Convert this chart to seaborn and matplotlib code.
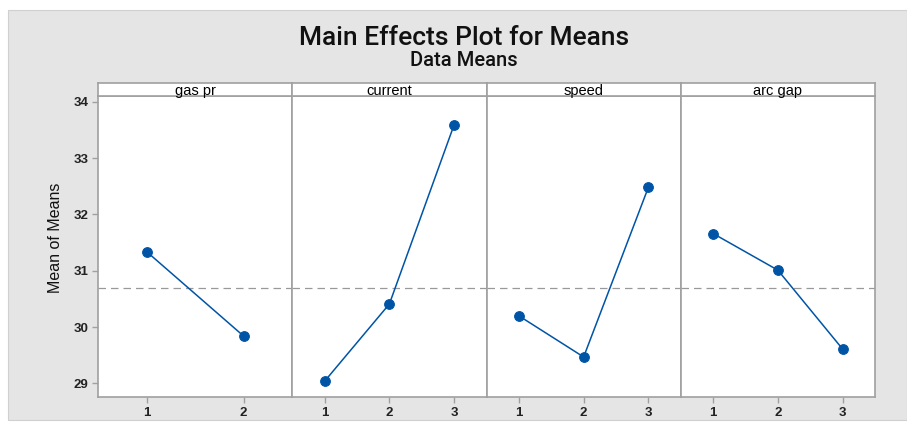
import numpy as np
import pandas as pd
import matplotlib
matplotlib.use('Agg')
import matplotlib.pyplot as plt
import seaborn as sns
from matplotlib.patches import Rectangle

# %%
# Data
factors = ['gas pr', 'current', 'speed', 'arc gap']
gas_pr_levels = [1, 2]
gas_pr_means = [31.34, 29.84]
current_levels = [1, 2, 3]
current_means = [29.04, 30.41, 33.59]
speed_levels = [1, 2, 3]
speed_means = [30.20, 29.47, 32.48]
arc_gap_levels = [1, 2, 3]
arc_gap_means = [31.66, 31.01, 29.61]
grand_mean = 30.69
y_ticks = [29, 30, 31, 32, 33, 34]

levels = [gas_pr_levels, current_levels, speed_levels, arc_gap_levels]
means = [gas_pr_means, current_means, speed_means, arc_gap_means]

# %%
sns.set_style('white')
plt.rcParams['font.family'] = ['Liberation Sans', 'DejaVu Sans']

frame_c = '#a0a0a0'
line_c = '#0054a6'
bg_c = '#e5e5e5'

fig = plt.figure(figsize=(9.07, 4.33), dpi=100, facecolor='white')
W, H = 907, 433

# gray background panel
fig.patches.append(Rectangle((8 / W, 1 - 420 / H), (W - 8) / W, (420 - 10) / H,
                             transform=fig.transFigure, facecolor=bg_c,
                             edgecolor='#d0d0d0', linewidth=0.8, zorder=-5))

left, right = 98, 875
top, bottom = 96, 397
strip_top = 83
pw = (right - left) / 4

for i, fac in enumerate(factors):
    x0 = left + i * pw
    ax = fig.add_axes([x0 / W, 1 - bottom / H, pw / W, (bottom - top) / H])
    ax.set_facecolor('white')
    df = pd.DataFrame({'level': levels[i], 'mean': means[i]})
    sns.lineplot(data=df, x='level', y='mean', ax=ax, color=line_c, lw=1.1,
                 marker='o', markersize=7, markeredgecolor=line_c)
    ax.axhline(grand_mean, color='#999999', lw=0.9, ls=(0, (6, 4)), zorder=0)
    n = len(levels[i])
    ax.set_xlim(0.5, n + 0.5)
    ax.set_ylim(28.76, 34.1)
    ax.set_xticks(levels[i])
    ax.set_xticklabels([str(v) for v in levels[i]], fontsize=9.5, fontweight='bold', color='#222222')
    ax.set_xlabel('')
    ax.set_ylabel('')
    for s in ax.spines.values():
        s.set_color(frame_c)
        s.set_linewidth(1.2)
    ax.tick_params(axis='x', length=4, color=frame_c, width=1, pad=3, bottom=True)
    if i == 0:
        ax.set_yticks(y_ticks)
        ax.set_yticklabels([str(v) for v in y_ticks], fontsize=9.5, fontweight='bold', color='#222222')
        ax.tick_params(axis='y', length=4, color=frame_c, width=1, pad=3, left=True)
    else:
        ax.set_yticks(y_ticks)
        ax.tick_params(axis='y', left=False, labelleft=False)

    # strip header
    sax = fig.add_axes([x0 / W, 1 - top / H, pw / W, (top - strip_top) / H])
    sax.set_facecolor('white')
    sax.set_xticks([])
    sax.set_yticks([])
    for s in sax.spines.values():
        s.set_color(frame_c)
        s.set_linewidth(1.2)
    sax.text(0.5, 0.4, fac, ha='center', va='center', fontsize=10.5, color='black',
             transform=sax.transAxes)

fig.text(464 / W, 1 - 38 / H, 'Main Effects Plot for Means', ha='center', va='center',
         fontsize=19, color='#111111', family=['Roboto', 'DejaVu Sans'], fontweight='medium')
fig.text(464 / W, 1 - 61 / H, 'Data Means', ha='center', va='center',
         fontsize=14.5, color='#111111', family=['Roboto', 'DejaVu Sans'], fontweight='medium')
fig.text(55 / W, 1 - 238 / H, 'Mean of Means', ha='center', va='center', rotation=90,
         fontsize=11.5, color='#111111')

fig.savefig('out.png', dpi=100, facecolor='white')
